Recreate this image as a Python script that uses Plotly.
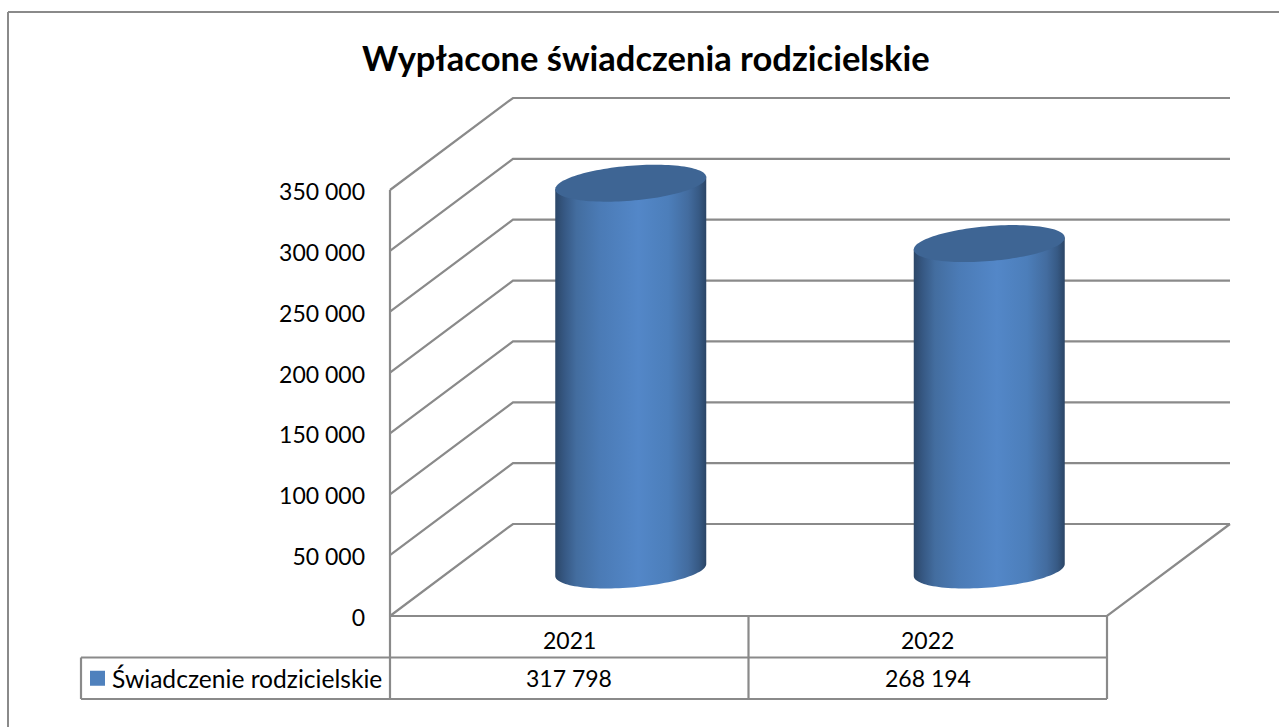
import numpy as np
import plotly.graph_objects as go

# ---- data ----
TITLE = "Wypłacone świadczenia rodzicielskie"
SERIES_NAME = "Świadczenie rodzicielskie"
years = ["2021", "2022"]
values = [317798, 268194]
tick_values = [0, 50000, 100000, 150000, 200000, 250000, 300000, 350000]
tick_labels = ["0", "50 000", "100 000", "150 000", "200 000", "250 000", "300 000", "350 000"]

# ---- layout scales (pixels of the picture per data unit) ----
W, H = 1279, 727
X0_PX, Y0_PX = 390, 616
PX_PER_CAT = 358.5
PX_PER_VAL = 426 / 350000
DEPTH_X = 123 / PX_PER_CAT
DEPTH_Y = 92 / PX_PER_VAL
TABLE_ROW = 41.5 / PX_PER_VAL
LABEL_DROP = 2 / PX_PER_VAL
LINE = "#8a8a8a"
LW = 2.2
FONT = "Lato"
TXT = "#000000"

fig = go.Figure()


def line(xs, ys, width=LW, color=LINE):
    fig.add_trace(go.Scatter(x=xs, y=ys, mode="lines", showlegend=False, hoverinfo="skip",
                             line=dict(color=color, width=width)))


n = len(years)
# gridlines: side wall + back wall
for v in tick_values:
    line([0, DEPTH_X, n + DEPTH_X], [v, v + DEPTH_Y, v + DEPTH_Y])
# floor
line([0, n, n + DEPTH_X], [0, 0, DEPTH_Y])
# front vertical axis and table
line([0, 0], [-2 * TABLE_ROW, tick_values[-1]])
for i in range(1, n + 1):
    line([i, i], [-2 * TABLE_ROW, 0])
line([-309 / PX_PER_CAT, n], [-TABLE_ROW, -TABLE_ROW])
line([-309 / PX_PER_CAT, n], [-2 * TABLE_ROW, -2 * TABLE_ROW])
line([-309 / PX_PER_CAT, -309 / PX_PER_CAT], [-2 * TABLE_ROW, -TABLE_ROW])

# cylinders
RX = 75.5 / PX_PER_CAT
SHEAR = 6 / PX_PER_VAL
RY = 17.5 / PX_PER_VAL
BODY = [
    [0.00, "#2c4768"], [0.06, "#365883"], [0.14, "#436d9f"], [0.30, "#4b7bb6"],
    [0.55, "#5387c8"], [0.75, "#4c7eba"], [0.88, "#436c9f"], [0.95, "#375a85"], [1.00, "#2b4566"],
]
TOP = "#3e6594"
t = np.linspace(0, 2 * np.pi, 121)
for i, (yr, v) in enumerate(zip(years, values)):
    cx = i + 0.5 + DEPTH_X / 2
    cy0 = DEPTH_Y / 2
    ex = cx + RX * np.cos(t)
    ey = SHEAR * np.cos(t) + RY * np.sin(t)
    # body: lower half of base ellipse, then up the sides
    lower = t[60:121]  # pi .. 2pi
    bx = cx + RX * np.cos(lower)
    by = cy0 + SHEAR * np.cos(lower) + RY * np.sin(lower)
    xs = np.concatenate([bx, [cx + RX, cx - RX, cx - RX]])
    ys = np.concatenate([by, [cy0 + v + SHEAR, cy0 + v - SHEAR, by[0]]])
    fig.add_trace(go.Scatter(x=xs, y=ys, mode="none", fill="toself", showlegend=False,
                             name=f"{SERIES_NAME} {yr}", hoverinfo="skip",
                             fillgradient=dict(type="horizontal", colorscale=BODY)))
    fig.add_trace(go.Scatter(x=ex, y=cy0 + v + ey, mode="none", fill="toself", fillcolor=TOP,
                             showlegend=False, hoverinfo="skip"))

# legend key in the data table
fig.add_trace(go.Scatter(x=[-292.5 / PX_PER_CAT], y=[-1.5 * TABLE_ROW], mode="markers",
                         marker=dict(symbol="square", size=15, color="#4f81bd", line=dict(width=0)),
                         showlegend=False, hoverinfo="skip"))
# carrier of the value axis labels
fig.add_trace(go.Scatter(x=[0], y=[0], yaxis="y2", mode="markers", marker=dict(opacity=0),
                         showlegend=False, hoverinfo="skip"))

ann = [
    dict(x=-280 / PX_PER_CAT, y=-1.5 * TABLE_ROW, text=SERIES_NAME, xanchor="left", yanchor="middle",
         showarrow=False, font=dict(family=FONT, size=24.6, color=TXT)),
    dict(xref="paper", yref="paper", x=646 / W, y=1 - 58 / H, text=f"<b>{TITLE}</b>",
         showarrow=False, xanchor="center", yanchor="middle", font=dict(family=FONT, size=34.5, color=TXT)),
]
for i, (yr, v) in enumerate(zip(years, values)):
    ann.append(dict(x=i + 0.5, y=-0.5 * TABLE_ROW, yshift=-3, text=yr, showarrow=False, yanchor="middle",
                    font=dict(family=FONT, size=23, color=TXT)))
    ann.append(dict(x=i + 0.5, y=-1.5 * TABLE_ROW, text=f"{v:,}".replace(",", " "), showarrow=False,
                    yanchor="middle", font=dict(family=FONT, size=23, color=TXT)))

y_lo, y_hi = -(H - Y0_PX) / PX_PER_VAL, Y0_PX / PX_PER_VAL
fig.update_layout(
    width=W, height=H, margin=dict(l=0, r=0, t=0, b=0),
    paper_bgcolor="white", plot_bgcolor="white", showlegend=False,
    annotations=ann,
    shapes=[
        dict(type="line", xref="paper", yref="paper", x0=8 / W, x1=1, y0=1 - 12 / H, y1=1 - 12 / H,
             line=dict(color=LINE, width=2)),
        dict(type="line", xref="paper", yref="paper", x0=8 / W, x1=8 / W, y0=0, y1=1 - 12 / H,
             line=dict(color=LINE, width=2)),
    ],
    xaxis=dict(range=[-X0_PX / PX_PER_CAT, (W - X0_PX) / PX_PER_CAT], visible=False, fixedrange=True),
    yaxis=dict(range=[y_lo, y_hi], visible=False, fixedrange=True),
    yaxis2=dict(range=[y_lo + LABEL_DROP, y_hi + LABEL_DROP], overlaying="y", anchor="free",
                position=X0_PX / W, side="left", tickmode="array", tickvals=tick_values,
                ticktext=tick_labels, showgrid=False, zeroline=False, showline=False, ticks="",
                ticklabelstandoff=25, tickfont=dict(family=FONT, size=23, color=TXT), fixedrange=True),
)

fig.write_html("out.html", config={"displayModeBar": False},
               post_script="document.body.style.margin='0';document.body.style.overflow='hidden';")
